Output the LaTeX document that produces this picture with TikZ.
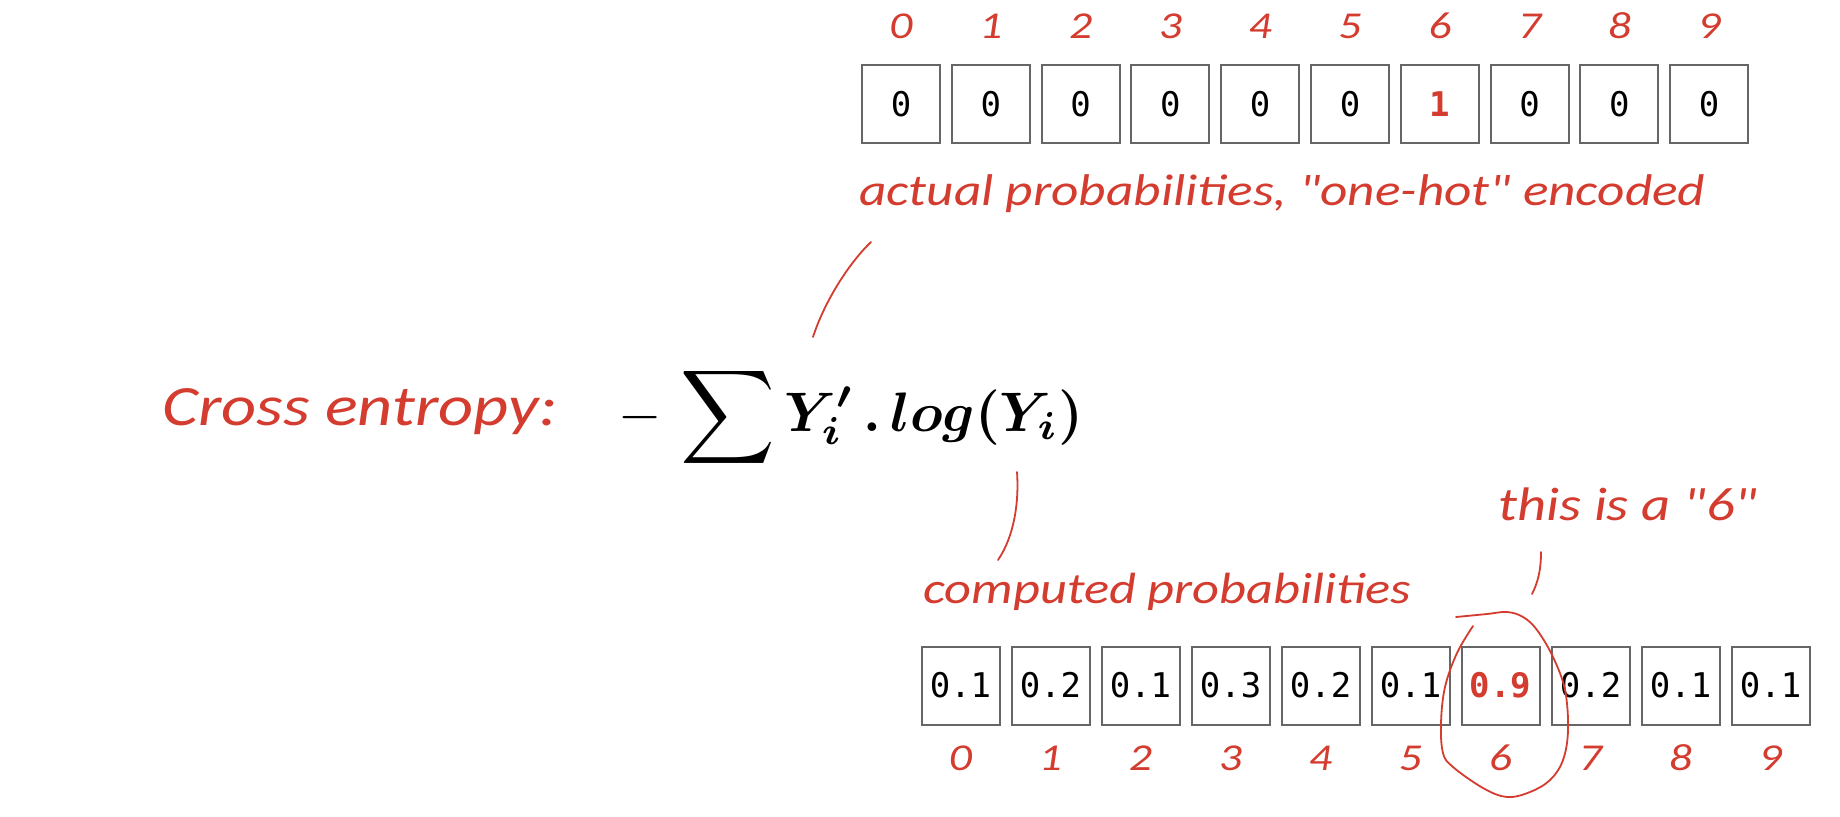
\documentclass[tikz,border=0pt]{standalone}
\usepackage{fontspec}
\usepackage{bm}
\usepackage{graphicx}
\newfontfamily\handfont[FakeStretch=1.2]{Carlito}
\newfontfamily\cellfont[Numbers=SlashedZero]{DejaVu Sans Mono}
\definecolor{hred}{RGB}{211,60,47}
\definecolor{boxgray}{RGB}{102,102,102}
\tikzset{
  cell/.style={draw=boxgray, line width=1pt, minimum width=39pt, minimum height=39pt, inner sep=0pt, fill=white},
  topnum/.style={font=\cellfont\fontsize{17}{20}\selectfont},
  botnum/.style={font=\cellfont\fontsize{17}{20}\selectfont},
  plainnum/.style={},
  hottop/.style={text=hred, font=\cellfont\bfseries\fontsize{17}{20}\selectfont},
  hotbot/.style={text=hred, font=\cellfont\bfseries\fontsize{17}{20}\selectfont},
  idx/.style={text=hred, font=\handfont\itshape\fontsize{19}{22}\selectfont, anchor=base, inner sep=0pt},
  hand/.style={text=hred, anchor=base west, inner sep=0pt},
  lead/.style={draw=hred, line width=0.9pt, line cap=round}
}
\begin{document}
\begin{tikzpicture}[x=0.5pt,y=-0.5pt]
\fill[white] (0,0) rectangle (1840,816);
\useasboundingbox (0,0) rectangle (1840,816);

% top one-hot vector
\foreach \v/\s [count=\i from 0] in {0/plainnum,0/plainnum,0/plainnum,0/plainnum,0/plainnum,0/plainnum,1/hottop,0/plainnum,0/plainnum,0/plainnum}{
  \node[cell, topnum, \s] (t\i) at ({901+89.8*\i},104) {\v};
  \node[idx] (tl\i) at ({901+89.8*\i},38) {\i};
}

% bottom computed vector
\foreach \v/\s [count=\i from 0] in {0.1/plainnum,0.2/plainnum,0.1/plainnum,0.3/plainnum,0.2/plainnum,0.1/plainnum,0.9/hotbot,0.2/plainnum,0.1/plainnum,0.1/plainnum}{
  \node[cell, botnum, \s] (b\i) at ({960.5+90*\i},685.5) {\v};
  \node[idx] (bl\i) at ({960.5+90*\i},770) {\i};
}

% texts
\node[hand] (actual) at (859,205) {\resizebox{423pt}{!}{\handfont\itshape actual probabilities, "one-hot" encoded}};
\node[hand] (cross) at (162,425) {\resizebox{197.5pt}{!}{\handfont\itshape Cross entropy:}};
\node[hand] (computed) at (923,603) {\resizebox{244pt}{!}{\handfont\itshape computed probabilities}};
\node[hand] (six) at (1498,520) {\resizebox{129.5pt}{!}{\handfont\itshape this is a "6"}};

% formula
\node[anchor=base west, inner sep=0pt] (formula) at (618,431)
  {\resizebox{232.5pt}{!}{$\displaystyle -\,\mathop{\vcenter{\hbox{\scalebox{1.18}{$\displaystyle\sum$}}}}\bm{Y_i'}\,\bm{.}\,\bm{log(Y_i)}$}};

% leader lines
\coordinate (a1) at (871,242);
\coordinate (a2) at (813,337);
\draw[lead] (a1) .. controls (850,262) and (825,300) .. (a2);
\coordinate (c1) at (1017,472);
\coordinate (c2) at (998,560);
\draw[lead] (c1) .. controls (1019,500) and (1015,535) .. (c2);
\coordinate (s1) at (1541,552);
\coordinate (s2) at (1532,594);
\draw[lead] (s1) .. controls (1541,570) and (1538,582) .. (s2);

% hand-drawn loop around 0.9
\draw[lead] plot[smooth, tension=0.6] coordinates {
 (1456,617) (1487,614) (1507,612) (1523,617) (1537,630) (1553,657) (1565,690)
 (1568,730) (1563,760) (1550,780) (1530,792) (1507,797) (1483,788) (1453,767)
 (1443,753) (1441,723) (1445,687) (1457,653) (1473,626)};
\end{tikzpicture}
\end{document}
